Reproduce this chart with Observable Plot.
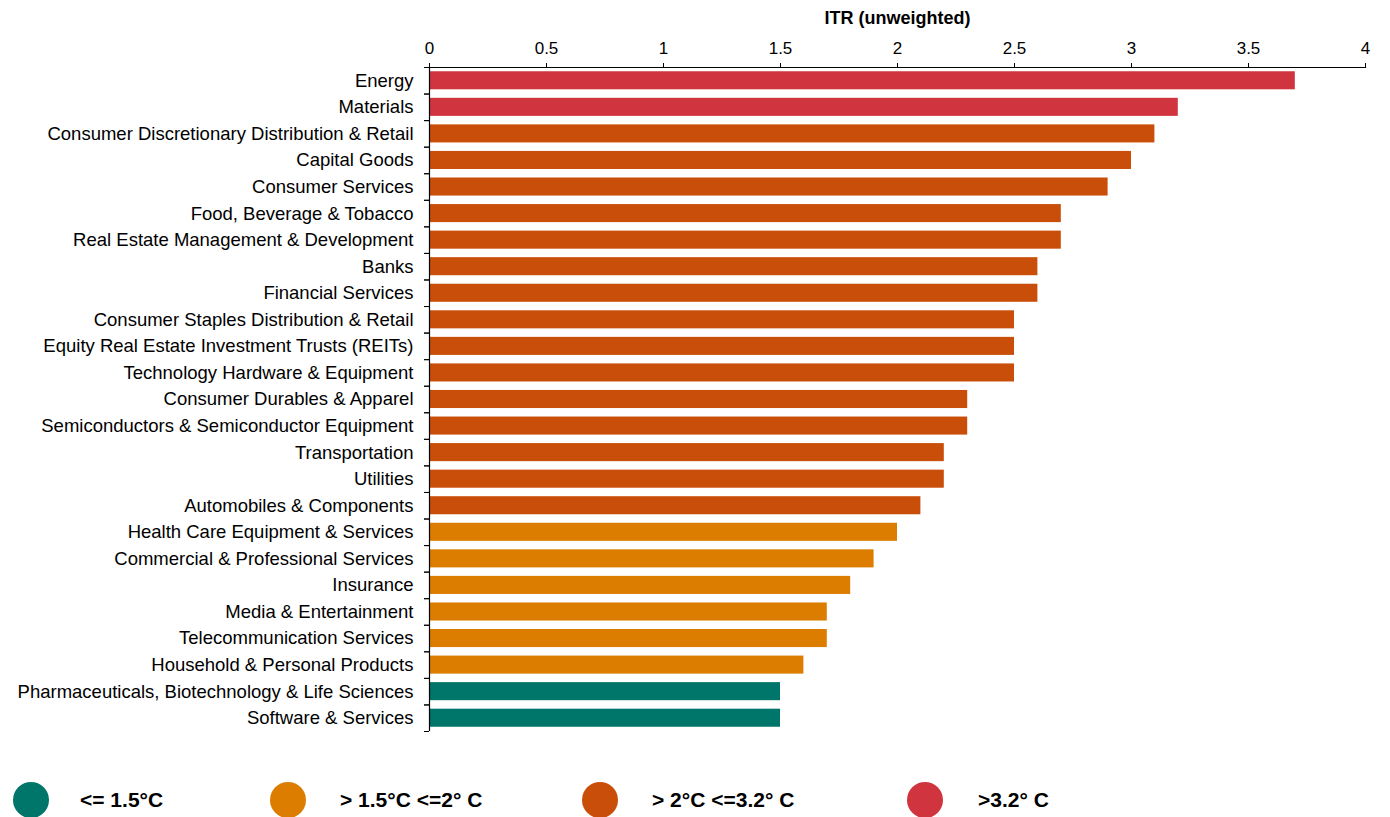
<!DOCTYPE html>
<html>
<head>
<meta charset="utf-8">
<script src="https://cdn.jsdelivr.net/npm/d3@7"></script>
<script src="https://cdn.jsdelivr.net/npm/@observablehq/plot@0.6"></script>
<style>
  body { margin: 0; background: #fff; font-family: "Liberation Sans", Arial, sans-serif; }
  #wrap { position: relative; width: 1390px; height: 817px; overflow: hidden; }
  #legend { position: absolute; left: 0; top: 782px; width: 1390px; height: 40px; }
  .dot { width: 36px; height: 36px; border-radius: 50%; position: absolute; top: 0; }
  .lbl { font-weight: bold; font-size: 21px; color: #000; position: absolute; white-space: nowrap; top: 6px; }
</style>
</head>
<body>
<div id="wrap">
  <div id="chart"></div>
  <div id="legend"></div>
</div>
<script>
const sectors = [
  "Energy", "Materials", "Consumer Discretionary Distribution & Retail", "Capital Goods",
  "Consumer Services", "Food, Beverage & Tobacco", "Real Estate Management & Development",
  "Banks", "Financial Services", "Consumer Staples Distribution & Retail",
  "Equity Real Estate Investment Trusts (REITs)", "Technology Hardware & Equipment",
  "Consumer Durables & Apparel", "Semiconductors & Semiconductor Equipment",
  "Transportation", "Utilities", "Automobiles & Components",
  "Health Care Equipment & Services", "Commercial & Professional Services", "Insurance",
  "Media & Entertainment", "Telecommunication Services", "Household & Personal Products",
  "Pharmaceuticals, Biotechnology & Life Sciences", "Software & Services"
];
const itr = [3.7, 3.2, 3.1, 3.0, 2.9, 2.7, 2.7, 2.6, 2.6, 2.5, 2.5, 2.5, 2.3, 2.3, 2.2, 2.2, 2.1,
  2.0, 1.9, 1.8, 1.7, 1.7, 1.6, 1.5, 1.5];
const bands = [">3.2° C", ">3.2° C", "> 2°C <=3.2° C", "> 2°C <=3.2° C", "> 2°C <=3.2° C",
  "> 2°C <=3.2° C", "> 2°C <=3.2° C", "> 2°C <=3.2° C", "> 2°C <=3.2° C", "> 2°C <=3.2° C",
  "> 2°C <=3.2° C", "> 2°C <=3.2° C", "> 2°C <=3.2° C", "> 2°C <=3.2° C", "> 2°C <=3.2° C",
  "> 2°C <=3.2° C", "> 2°C <=3.2° C", "> 1.5°C <=2° C", "> 1.5°C <=2° C", "> 1.5°C <=2° C",
  "> 1.5°C <=2° C", "> 1.5°C <=2° C", "> 1.5°C <=2° C", "<= 1.5°C", "<= 1.5°C"];
const legendLabels = ["<= 1.5°C", "> 1.5°C <=2° C", "> 2°C <=3.2° C", ">3.2° C"];
const legendColors = ["#00756A", "#DC7D00", "#C94E0A", "#D0353F"];
const xTicks = [0, 0.5, 1, 1.5, 2, 2.5, 3, 3.5, 4];

const data = sectors.map((s, i) => ({sector: s, value: itr[i], band: bands[i]}));

const marginTop = 67, marginBottom = 86, height = 817;
const step = (height - marginTop - marginBottom) / sectors.length;
const inset = step * 0.16;

const chart = Plot.plot({
  width: 1390,
  height,
  marginTop,
  marginBottom,
  marginLeft: 429,
  marginRight: 25,
  style: {fontFamily: "'Liberation Sans', Arial, sans-serif", fontSize: "16px", color: "#000", background: "transparent"},
  x: {domain: [0, 4]},
  y: {domain: sectors, padding: 0, round: false},
  color: {domain: legendLabels, range: legendColors},
  marks: [
    Plot.barX(data, {y: "sector", x: "value", fill: "band", insetTop: inset, insetBottom: inset}),
    Plot.frame({anchor: "top", stroke: "#000", strokeWidth: 1.2}),
    Plot.ruleX([0], {stroke: "#000", strokeWidth: 1.2}),
    Plot.axisX({anchor: "top", ticks: xTicks, tickSize: 5, tickPadding: 9, fontSize: 17,
      tickFormat: d => String(d),
      label: "ITR (unweighted)", labelAnchor: "center", labelArrow: "none", labelOffset: 56}),
    Plot.axisY({anchor: "left", tickSize: 0, tickPadding: 16, fontSize: 18.5, label: null}),
    Plot.axisY({anchor: "left", tickSize: 5, tickFormat: () => "", label: null, dy: step / 2}),
    Plot.axisY({anchor: "left", tickSize: 5, tickFormat: () => "", label: null, dy: -step / 2})
  ]
});
document.getElementById("chart").appendChild(chart);
chart.querySelectorAll("g[aria-label='x-axis label'] text").forEach(t => {
  t.setAttribute("font-weight", "bold");
  t.setAttribute("font-size", "18");
});

const legend = document.getElementById("legend");
const dotX = [13, 270, 582, 907];
const textX = [80, 340, 652, 978];
legendLabels.forEach((l, i) => {
  const d = document.createElement("div");
  d.className = "dot";
  d.style.left = dotX[i] + "px";
  d.style.background = legendColors[i];
  legend.appendChild(d);
  const t = document.createElement("div");
  t.className = "lbl";
  t.style.left = textX[i] + "px";
  t.textContent = l;
  legend.appendChild(t);
});
</script>
</body>
</html>
